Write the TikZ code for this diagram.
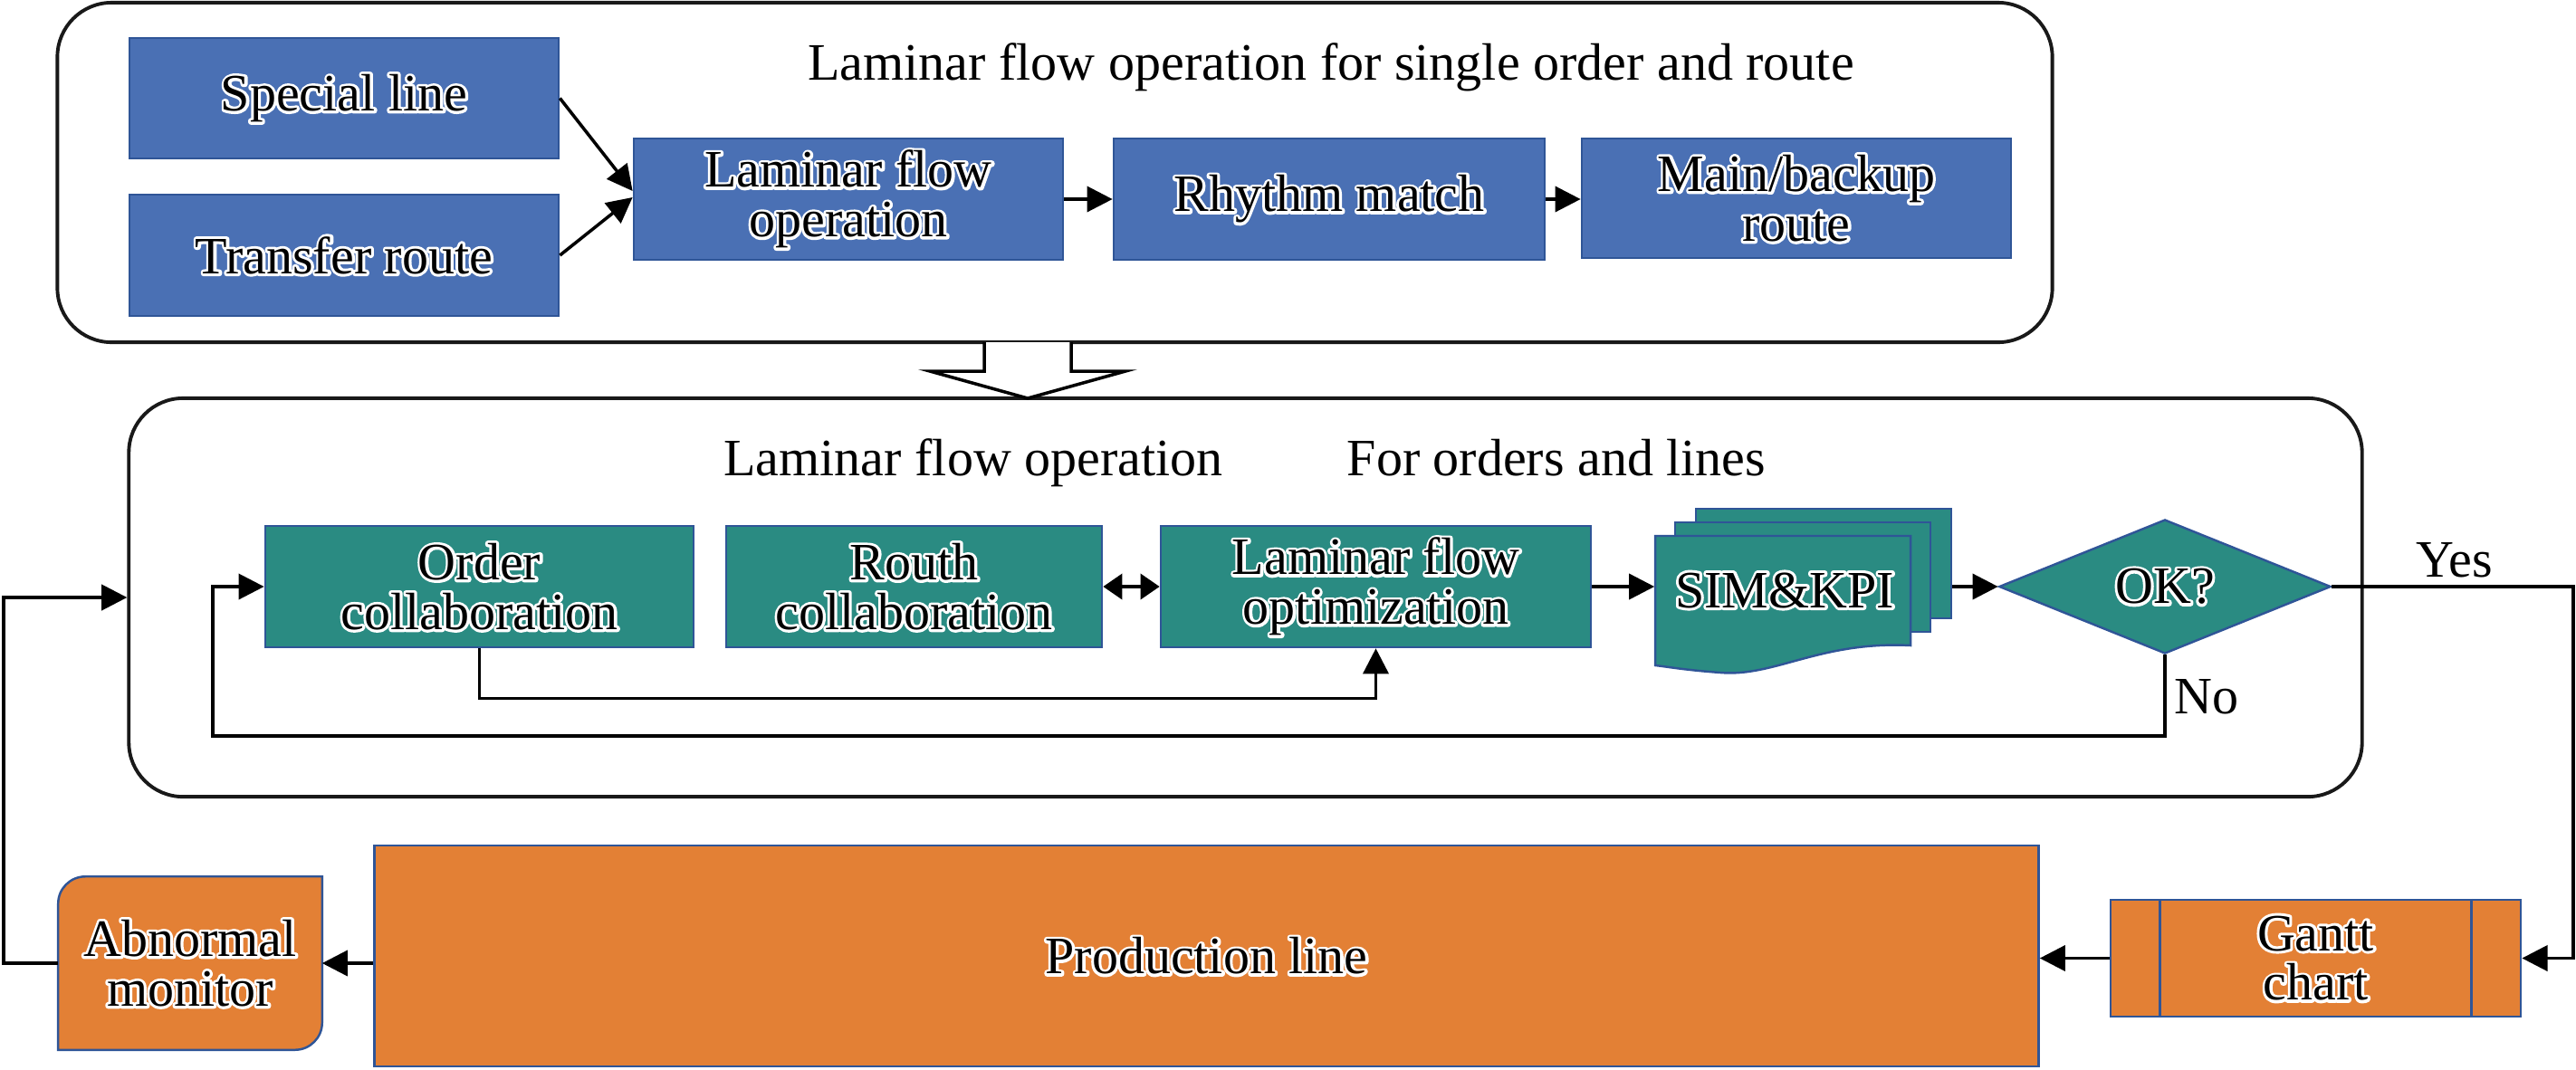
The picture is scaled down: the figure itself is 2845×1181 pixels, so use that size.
\documentclass[tikz,border=0pt]{standalone}
\usepackage{fontspec}
\setmainfont{Liberation Serif}
\usetikzlibrary{arrows.meta,shapes.geometric,calc}
\definecolor{bfill}{HTML}{4A70B4}
\definecolor{bdraw}{HTML}{2F5597}
\definecolor{tfill}{HTML}{2A8B82}
\definecolor{ofill}{HTML}{E38035}
\newcommand{\wt}[1]{\leavevmode\rlap{\special{pdf:literal direct 1 Tr 1.7 w 1 j 1 1 1 RG}#1\special{pdf:literal direct 0 Tr}}#1}
\begin{document}
\begin{tikzpicture}[x=0.01cm,y=-0.01cm,
  font=\fontsize{16.5}{15.6}\selectfont,
  box/.style={draw=bdraw,line width=0.7pt,inner sep=0pt,align=center},
  bluebox/.style={box,fill=bfill},
  tealbox/.style={box,fill=tfill},
  orgbox/.style={box,fill=ofill},
  container/.style={draw=black!90,line width=1.1pt,rounded corners=6mm,inner sep=0pt},
  arr/.style={line width=1pt,-{Triangle[length=8pt,width=8pt]}},
  dbl/.style={line width=1pt,{Triangle[length=6pt,width=8pt]}-{Triangle[length=6pt,width=8pt]}},
]
\useasboundingbox (0,0) rectangle (2845,1181);
% containers
\node[container,minimum width=220.2mm,minimum height=37.5mm] (top) at (1165,190.5) {};
\node[container,minimum width=246.5mm,minimum height=44mm] (mid) at (1375.5,660) {};
% hollow block arrow
\draw[line width=1pt,fill=white] (1087,378) -- (1087,410) -- (1027,410) -- (1135,440) -- (1243,410) -- (1183,410) -- (1183,378);
% titles
\node[anchor=base,inner sep=0] (t1) at (1470,88) {Laminar flow operation for single order and route};
\node[anchor=base,inner sep=0] (t2) at (1075,525) {Laminar flow operation};
\node[anchor=base,inner sep=0] (t3) at (1719,525) {For orders and lines};
% top row
\node[bluebox,minimum width=47.4mm,minimum height=13.3mm] (sl) at (380,108.5) {\wt{Special line}};
\node[bluebox,minimum width=47.4mm,minimum height=13.4mm] (tr) at (380,282) {\wt{Transfer route}};
\node[bluebox,minimum width=47.4mm,minimum height=13.4mm] (lfo) at (937,220) {\wt{Laminar flow}\\\wt{operation}};
\node[bluebox,minimum width=47.6mm,minimum height=13.4mm] (rm) at (1468,220) {\wt{Rhythm match}};
\node[bluebox,minimum width=47.4mm,minimum height=13.2mm] (mb) at (1984,219) {\wt{Main/backup}\\\wt{route}};
% middle row
\node[tealbox,minimum width=47.3mm,minimum height=13.4mm] (oc) at (529.5,648) {\wt{Order}\\\wt{collaboration}};
\node[tealbox,minimum width=41.5mm,minimum height=13.4mm] (rc) at (1009.5,648) {\wt{Routh}\\\wt{collaboration}};
\node[tealbox,minimum width=47.5mm,minimum height=13.4mm] (lopt) at (1519.5,648) {\wt{Laminar flow}\\\wt{optimization}};
% multi-document
\node[tealbox,minimum width=28.2mm,minimum height=12.1mm] (simb) at (2014,622.5) {};
\node[tealbox,minimum width=28.2mm,minimum height=12.1mm] (simm) at (1991,637.5) {};
\node[inner sep=0,minimum width=28.2mm,minimum height=14.3mm] (simf) at (1969,663.5) {};
\draw[draw=bdraw,line width=0.7pt,fill=tfill] (1828,592) -- (2110,592) -- (2110,713)
  .. controls (2010,708) and (1960,748) .. (1900,743)
  .. controls (1860,740) and (1845,737) .. (1828,735) -- cycle;
\node[inner sep=0] (simt) at (1971,652) {\wt{SIM\&KPI}};
\node[tealbox,diamond,aspect=2.47,minimum width=36.6mm,minimum height=14.8mm] (ok) at (2391,648) {\wt{OK?}};
% bottom row
\node[orgbox,minimum width=183.7mm,minimum height=24.4mm] (pl) at (1332.5,1056) {\wt{Production line}};
\node[orgbox,minimum width=45.3mm,minimum height=12.9mm] (gc) at (2557.5,1058.5) {\wt{Gantt}\\\wt{chart}};
\draw[draw=bdraw,line width=0.7pt] ([xshift=5.6mm]gc.north west) -- ([xshift=5.6mm]gc.south west);
\draw[draw=bdraw,line width=0.7pt] ([xshift=-5.6mm]gc.north east) -- ([xshift=-5.6mm]gc.south east);
\node[inner sep=0,minimum width=29mm,minimum height=19mm] (am) at (210,1064) {};
\draw[draw=bdraw,line width=0.7pt,fill=ofill] (am.south west) -- ([yshift=-3mm]am.north west)
  arc[start angle=180,end angle=90,radius=3mm] -- (am.north east)
  -- ([yshift=3mm]am.south east) arc[start angle=0,end angle=-90,radius=3mm] -- cycle;
\node[inner sep=0,align=center] (amt) at (am) {\wt{Abnormal}\\\wt{monitor}};
% labels
\node[anchor=base west,inner sep=0] (yes) at (2668,637) {Yes};
\node[anchor=base west,inner sep=0] (no) at (2401,788) {No};
% connectors
\draw[arr] (sl.east) -- ($(lfo.west)+(0,-9)$);
\draw[arr] (tr.east) -- ($(lfo.west)+(0,-2)$);
\draw[arr] (lfo.east) -- (rm.west);
\draw[arr] (rm.east) -- (mb.west |- rm.east);
\draw[dbl] (rc.east) -- (lopt.west);
\draw[arr] (lopt.east) -- (lopt.east -| simf.west);
\draw[arr] (simb.east |- ok.west) -- (ok.west);
\coordinate (nol) at (235,813);
\draw[arr] (ok.south) |- (nol) |- (oc.west);
\draw[arr] (oc.south) -- ++(0,55) -| (lopt.south);
\coordinate (yr) at (2842,648);
\draw[arr] (ok.east) -- (yr) |- (gc.east);
\draw[arr] (gc.west) -- (gc.west -| pl.east);
\draw[arr] (pl.west |- am.east) -- (am.east);
\coordinate (lx) at (4,0);
\draw[arr] (am.west) -- (am.west -| lx) |- (mid.west);
\end{tikzpicture}
\end{document}
